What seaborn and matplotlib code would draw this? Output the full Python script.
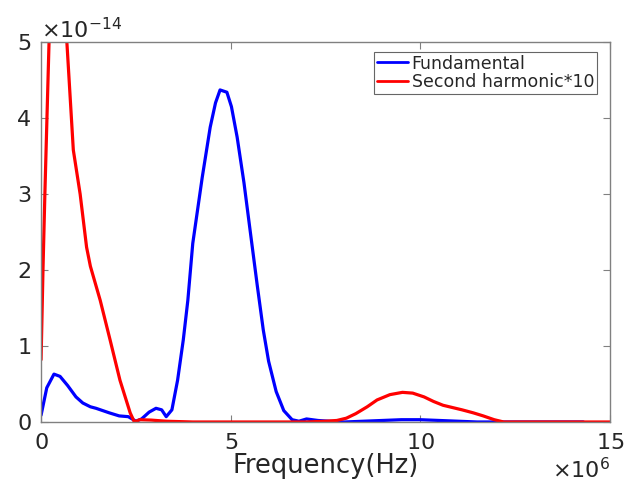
import numpy as np
import pandas as pd
import matplotlib
matplotlib.use("Agg")
import matplotlib.pyplot as plt
import seaborn as sns
from matplotlib.ticker import ScalarFormatter

# Fundamental (frequency in MHz, amplitude in 1e-14)
fund_freq_mhz = [0.0, 0.15, 0.34, 0.5, 0.7, 0.92, 1.1, 1.3, 1.45, 1.8, 2.06, 2.3, 2.5,
                 2.65, 2.85, 3.03, 3.18, 3.3, 3.45, 3.6, 3.75, 3.87, 4.0, 4.25, 4.46,
                 4.6, 4.72, 4.9, 5.02, 5.17, 5.35, 5.5, 5.7, 5.86, 6.0, 6.2, 6.4, 6.62,
                 6.8, 7.0, 7.3, 7.6, 8.0, 8.5, 9.0, 9.5, 10.0, 10.5, 11.0, 11.5, 12.5,
                 13.5, 14.3]
fund_amp = [0.09, 0.45, 0.63, 0.6, 0.48, 0.33, 0.25, 0.2, 0.18, 0.12, 0.08, 0.07, 0.01,
            0.04, 0.13, 0.18, 0.16, 0.07, 0.16, 0.55, 1.08, 1.6, 2.35, 3.22, 3.88,
            4.2, 4.37, 4.34, 4.15, 3.75, 3.15, 2.57, 1.8, 1.21, 0.8, 0.4, 0.15, 0.03,
            0.01, 0.04, 0.02, 0.01, 0.0, 0.01, 0.02, 0.03, 0.03, 0.02, 0.01, 0.0, 0.0,
            0.0, 0.0]

# Second harmonic * 10 (frequency in MHz, amplitude in 1e-14)
sh_freq_mhz = [0.0, 0.05, 0.1, 0.21, 0.35, 0.5, 0.68, 0.85, 1.03, 1.2, 1.3, 1.56, 1.82,
               2.08, 2.35, 2.46, 2.6, 2.9, 3.3, 4.0, 5.0, 6.0, 7.0, 7.5, 7.8, 8.05,
               8.3, 8.6, 8.86, 9.2, 9.53, 9.8, 10.1, 10.35, 10.6, 11.1, 11.4, 11.66,
               11.95, 12.2, 13.0, 14.0, 15.0]
sh_amp = [0.82, 2.0, 3.0, 5.0, 6.6, 6.4, 5.0, 3.58, 3.0, 2.3, 2.05, 1.6, 1.08,
          0.55, 0.12, 0.0, 0.03, 0.025, 0.01, 0.0, 0.0, 0.0, 0.0, 0.01, 0.02, 0.05,
          0.11, 0.2, 0.29, 0.36, 0.39, 0.38, 0.33, 0.27, 0.22, 0.16, 0.12, 0.08,
          0.03, 0.0, 0.0, 0.0, 0.0]

x_ticks = [0, 5e6, 10e6, 15e6]
y_ticks = [0, 1e-14, 2e-14, 3e-14, 4e-14, 5e-14]

fund_df = pd.DataFrame({"f": np.array(fund_freq_mhz) * 1e6, "a": np.array(fund_amp) * 1e-14})
sh_df = pd.DataFrame({"f": np.array(sh_freq_mhz) * 1e6, "a": np.array(sh_amp) * 1e-14})

sns.set_theme(style="white")
plt.rcParams['font.family'] = ['DejaVu Sans']
plt.rcParams['mathtext.fontset'] = 'dejavusans'

fig = plt.figure(figsize=(6.32, 4.95), dpi=100)
ax = fig.add_axes([0.065, 0.1475, 0.9, 0.7675])

sns.lineplot(data=fund_df, x="f", y="a", ax=ax, color="#0000FF", linewidth=2.3,
             label="Fundamental", sort=False)
sns.lineplot(data=sh_df, x="f", y="a", ax=ax, color="#FF0000", linewidth=2.3,
             label="Second harmonic*10", sort=False)

ax.set_xlim(0, 15e6)
ax.set_ylim(0, 5e-14)
ax.set_xticks(x_ticks)
ax.set_yticks(y_ticks)

xfmt = ScalarFormatter(useMathText=True)
xfmt.set_powerlimits((6, 6))
ax.xaxis.set_major_formatter(xfmt)
yfmt = ScalarFormatter(useMathText=True)
yfmt.set_powerlimits((-14, -14))
ax.yaxis.set_major_formatter(yfmt)

ax.tick_params(direction="in", length=5, width=0.8, colors="#808080",
               labelcolor="#262626", labelsize=16, top=True, right=True,
               bottom=True, left=True)
ax.tick_params(axis="x", pad=8)
ax.tick_params(axis="y", pad=7)
for ot in (ax.xaxis.get_offset_text(), ax.yaxis.get_offset_text()):
    ot.set_fontsize(16)
    ot.set_color("#262626")

for sp in ax.spines.values():
    sp.set_color("#808080")
    sp.set_linewidth(1.0)

ax.set_xlabel("Frequency(Hz)", fontsize=18.5, color="#262626", labelpad=0)
ax.set_ylabel("")

leg = ax.legend(loc="upper right", fontsize=12.5, frameon=True, fancybox=False,
                edgecolor="#404040", handlelength=1.8, handletextpad=0.2,
                borderpad=0.15, labelspacing=0.05, borderaxespad=0.0,
                bbox_to_anchor=(0.977, 0.974))
leg.get_frame().set_linewidth(0.8)
for line in leg.get_lines():
    line.set_linewidth(2.0)

fig.savefig("out.png", dpi=100, facecolor="white")
